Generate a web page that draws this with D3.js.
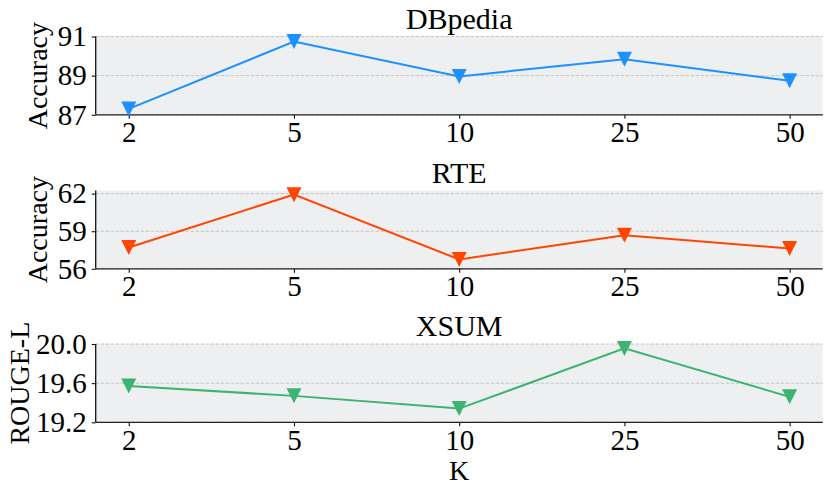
<!DOCTYPE html>
<html>
<head>
<meta charset="utf-8">
<script src="https://cdn.jsdelivr.net/npm/d3@7"></script>
<style>
  body { margin: 0; background: #fff; }
  svg text { font-family: "Liberation Serif", "Times New Roman", Times, serif !important; fill: #000; }
</style>
</head>
<body>
<svg id="chart" width="831" height="495"></svg>
<script>
// K values on the x axis
const kValues = ["2", "5", "10", "25", "50"];

// series values per dataset
const dbpediaAcc = [87.3, 90.74, 88.96, 89.84, 88.74];
const rteAcc = [57.7, 61.92, 56.75, 58.68, 57.62];
const xsumRouge = [19.57, 19.47, 19.34, 19.955, 19.46];

// y tick labels per panel
const dbpediaTicks = [87, 89, 91];
const rteTicks = [56, 59, 62];
const xsumTicks = [19.2, 19.6, 20.0];

const panels = [
  {title: "DBpedia", ylabel: "Accuracy", values: dbpediaAcc, ticks: dbpediaTicks, domain: [87, 91], fmt: d3.format("d"), color: "#1e90ff", top: 36.5},
  {title: "RTE", ylabel: "Accuracy", values: rteAcc, ticks: rteTicks, domain: [56, 62.25], fmt: d3.format("d"), color: "#ff4500", top: 190.5},
  {title: "XSUM", ylabel: "ROUGE-L", values: xsumRouge, ticks: xsumTicks, domain: [19.2, 20.0], fmt: d3.format(".1f"), color: "#3cb371", top: 344}
];

const left = 95.7, right = 822.7, panelH = 78.3;
const tickSize = 29, titleSize = 30, labelSize = 28;
const serif = '"Liberation Serif", "Times New Roman", Times, serif';

const svg = d3.select("#chart");

// categorical positions 0..4 with matplotlib-like padding
const x = d3.scaleLinear()
    .domain([-0.2, 4.2])
    .range([left, right]);

panels.forEach(function (p) {
  const g = svg.append("g").attr("transform", "translate(0," + p.top + ")");

  const y = d3.scaleLinear()
      .domain(p.domain)
      .range([panelH, 0]);

  // background
  g.append("rect")
      .attr("x", left)
      .attr("y", 0)
      .attr("width", right - left)
      .attr("height", panelH)
      .attr("fill", "#eeeff1");

  // dashed grid
  g.selectAll("line.grid")
      .data(p.ticks)
      .enter().append("line")
      .attr("class", "grid")
      .attr("x1", left)
      .attr("x2", right)
      .attr("y1", d => y(d))
      .attr("y2", d => y(d))
      .attr("stroke", "#c4c4c4")
      .attr("stroke-width", 1)
      .attr("stroke-dasharray", "3.3,1.7");

  // y axis
  const yAxis = g.append("g")
      .attr("transform", "translate(" + left + ",0)")
      .call(d3.axisLeft(y).tickValues(p.ticks).tickFormat(p.fmt).tickSize(4).tickPadding(5))
      .attr("font-family", serif)
      .attr("font-size", tickSize);
  yAxis.select(".domain").attr("stroke", "#111").attr("stroke-width", 1.3).attr("d", "M0," + panelH + "V0");
  yAxis.selectAll(".tick line").attr("stroke", "#111").attr("stroke-width", 1.1);
  yAxis.selectAll(".tick text")
      .style("font-size", tickSize + "px")
      .attr("fill", "#000");

  // x axis
  const xAxis = g.append("g")
      .attr("transform", "translate(0," + panelH + ")")
      .call(d3.axisBottom(x).tickValues(d3.range(kValues.length)).tickFormat(i => kValues[i]).tickSize(4).tickPadding(3))
      .attr("font-family", serif)
      .attr("font-size", tickSize);
  xAxis.select(".domain").attr("stroke", "#222").attr("stroke-width", 1.3).attr("d", "M" + left + ",0H" + right);
  xAxis.selectAll(".tick line").attr("stroke", "#111").attr("stroke-width", 1.1);
  xAxis.selectAll(".tick text")
      .style("font-size", tickSize + "px")
      .attr("fill", "#000");

  // line
  const line = d3.line()
      .x((d, i) => x(i))
      .y(d => y(d));

  g.append("path")
      .datum(p.values)
      .attr("d", line)
      .attr("fill", "none")
      .attr("stroke", p.color)
      .attr("stroke-width", 2);

  // triangle-down markers
  const m = 7.5;
  g.selectAll("path.marker")
      .data(p.values)
      .enter().append("path")
      .attr("class", "marker")
      .attr("transform", (d, i) => "translate(" + x(i) + "," + y(d) + ")")
      .attr("d", "M" + (-m) + "," + (-m) + "L" + m + "," + (-m) + "L0," + m + "Z")
      .attr("fill", p.color);

  // title
  g.append("text")
      .attr("x", (left + right) / 2)
      .attr("y", -8)
      .attr("text-anchor", "middle")
      .style("font-size", titleSize + "px")
      .text(p.title);

  // y label
  g.append("text")
      .attr("transform", "translate(" + (p.ylabel === "ROUGE-L" ? 29 : 47) + "," + (panelH / 2) + ") rotate(-90)")
      .attr("text-anchor", "middle")
      .style("font-size", labelSize + "px")
      .text(p.ylabel);
});

// x label
svg.append("text")
    .attr("x", x(2))
    .attr("y", 480)
    .attr("text-anchor", "middle")
    .style("font-size", labelSize + "px")
    .text("K");
</script>
</body>
</html>
